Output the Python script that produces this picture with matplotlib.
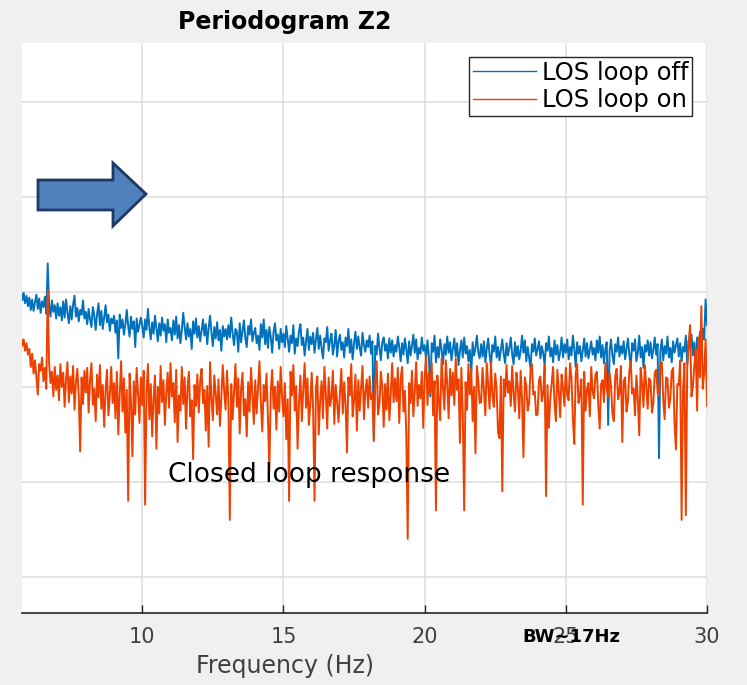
import numpy as np
import matplotlib
matplotlib.use("Agg")
import matplotlib.pyplot as plt
from matplotlib.patches import Polygon

plt.rcParams['font.family'] = 'DejaVu Sans'

# frequency grid (Hz) and power (dB)
f_start, f_step = 5.7, 0.05
los_off = [
    -39.8, -40.9, -40.1, -41.2, -40.4, -41.5,
    -40.6, -41.9, -40.8, -42.0, -41.1, -40.3, -41.8, -40.7, -42.2, -41.0, -41.6, -40.5, -42.3, -37.0, -41.3, -42.6, -40.9, -42.1, -41.4, -42.8,
    -41.2, -42.5, -41.6, -43.0, -41.0, -42.7, -40.8, -42.2, -43.3, -41.5, -42.9, -41.3, -40.4, -42.6, -41.7, -43.1, -41.9, -42.4, -40.9, -42.8,
    -42.1, -43.4, -41.8, -42.9, -43.7, -41.6, -42.5, -44.0, -42.3, -41.2, -43.5, -42.0, -43.9, -42.7, -41.4, -43.2, -42.4, -44.1, -42.8, -43.3,
    -42.5, -44.3, -43.0, -47.0, -42.4, -43.8, -42.9, -44.5, -43.4, -41.9, -43.6, -44.7, -42.6, -43.9, -43.1, -45.8, -42.8, -44.2, -43.5, -42.7,
    -43.6, -44.8, -42.9, -44.0, -41.8, -43.7, -45.0, -43.2, -44.4, -42.5, -43.9, -45.2, -43.3, -44.6, -42.7, -44.1, -43.4, -45.3, -42.9, -44.3,
    -43.8, -45.1, -43.0, -44.5, -42.6, -44.9, -43.5, -45.4, -44.0, -42.2, -43.7, -45.0, -43.3, -44.7, -43.9, -46.0, -43.1, -44.4, -42.8, -44.8,
    -43.6, -45.2, -44.1, -42.9, -44.6, -43.4, -45.5, -43.8, -42.5, -44.3, -45.7, -43.7, -44.9, -43.2, -45.1, -44.0, -46.2, -43.6, -44.7, -43.9,
    -45.0, -43.5, -44.8, -42.7, -44.4, -45.6, -43.9, -44.2, -46.3, -43.3, -45.3, -44.1, -43.0, -44.9, -45.8, -43.6, -44.5, -42.9, -45.2, -44.3,
    -43.8, -45.4, -44.6, -46.1, -43.4, -44.8, -42.9, -45.5, -44.0, -45.9, -43.7, -44.7, -46.4, -44.2, -43.3, -45.1, -44.5, -46.0, -43.9, -45.3,
    -44.4, -45.8, -43.6, -45.0, -46.3, -44.6, -45.4, -43.5, -46.5, -44.9, -45.7, -44.1, -43.4, -45.6, -44.8, -46.7, -45.2, -43.9, -46.1, -44.7,
    -45.5, -44.3, -46.4, -45.0, -43.8, -46.0, -44.6, -45.9, -47.0, -44.9, -45.3, -43.7, -46.2, -45.1, -44.4, -46.6, -45.6, -44.0, -46.8, -45.2,
    -44.5, -46.1, -45.3, -46.9, -44.8, -45.7, -43.9, -46.4, -45.0, -47.1, -45.4, -44.2, -46.0, -44.7, -45.9, -46.7, -44.3, -45.6, -46.3, -45.1,
    -45.8, -44.6, -46.5, -45.2, -55.5, -45.7, -46.6, -44.4, -45.9, -47.2, -45.3, -44.8, -46.2, -45.5, -47.0, -44.9, -46.4, -45.1, -46.8, -45.6,
    -46.3, -44.7, -45.8, -47.3, -45.4, -46.6, -44.9, -46.0, -47.5, -45.2, -46.7, -45.7, -44.5, -46.4, -45.0, -47.1, -45.9, -46.5, -44.8, -46.2,
    -45.6, -47.0, -45.1, -46.8, -51.0, -45.4, -46.3, -44.6, -47.4, -45.8, -46.9, -45.0, -46.1, -47.6, -45.5, -46.6, -44.7, -46.4, -45.3, -47.2,
    -46.0, -44.9, -46.8, -45.4, -47.7, -46.2, -45.1, -46.9, -44.8, -46.5, -45.7, -47.3, -46.1, -48.6, -45.3, -46.7, -45.9, -44.6, -46.4, -47.0,
    -45.5, -46.8, -45.2, -47.4, -46.0, -44.9, -46.6, -47.8, -45.6, -46.3, -44.7, -46.9, -45.8, -47.2, -46.1, -45.0, -46.5, -47.5, -45.4, -46.7,
    -45.9, -44.8, -46.6, -47.6, -45.3, -46.8, -45.7, -47.1, -46.2, -44.6, -46.4, -45.1, -47.3, -45.8, -46.9, -48.1, -45.5, -46.3, -44.9, -46.7,
    -46.0, -45.2, -47.0, -45.7, -46.5, -47.7, -45.4, -46.2, -44.7, -46.8, -45.9, -47.4, -45.1, -46.6, -45.6, -47.2, -46.3, -44.8, -46.9, -45.5,
    -46.4, -45.0, -47.1, -45.8, -46.7, -44.6, -46.0, -47.9, -45.3, -46.5, -45.7, -47.3, -46.2, -44.9, -46.8, -45.4, -47.0, -46.1, -45.2, -46.6,
    -45.9, -47.2, -45.1, -46.4, -44.7, -46.9, -45.6, -47.5, -46.0, -45.3, -54.0, -46.2, -45.0, -46.7, -47.6, -45.5, -46.3, -44.8, -46.8, -45.7,
    -46.5, -45.2, -47.1, -46.0, -44.9, -46.6, -47.8, -45.4, -46.2, -45.0, -47.3, -46.4, -44.6, -46.9, -45.8, -48.0, -45.6, -46.3, -45.1, -46.7,
    -45.3, -47.0, -46.1, -44.8, -46.6, -45.5, -57.5, -46.2, -45.0, -47.2, -45.7, -46.5, -44.7, -46.9, -45.9, -47.4, -45.2, -46.4, -45.6, -44.9,
    -46.8, -45.4, -47.3, -45.8, -46.3, -44.6, -47.6, -45.1, -46.0, -44.5, -46.7, -45.3, -48.0, -44.8, -46.1, -44.2, -45.9, -43.9, -45.0, -40.8,
    -43.5,
]
los_on = [
    -44.6, -45.7, -45.0, -46.2, -45.4, -46.6,
    -46.0, -47.9, -46.5, -48.6, -47.2, -49.0, -50.8, -47.6, -48.3, -46.9, -49.4, -48.0, -50.2, -39.8, -47.5, -49.6, -48.4, -51.0, -47.9, -50.3,
    -48.8, -51.4, -47.6, -50.0, -48.5, -52.1, -49.2, -47.4, -51.6, -48.9, -50.7, -47.8, -52.4, -49.5, -48.1, -50.9, -56.8, -49.0, -51.8, -48.3,
    -50.6, -48.0, -52.7, -49.3, -47.5, -51.9, -50.2, -53.6, -48.7, -51.1, -47.7, -52.3, -49.8, -54.2, -50.4, -48.2, -53.0, -50.9, -47.9, -51.7,
    -49.6, -53.3, -48.4, -55.0, -50.8, -47.3, -52.6, -49.1, -54.8, -50.3, -62.0, -48.6, -51.5, -57.3, -49.4, -52.9, -48.0, -50.7, -53.8, -49.0,
    -51.9, -48.3, -62.4, -50.5, -47.6, -53.4, -49.7, -55.2, -51.2, -48.8, -56.5, -50.0, -52.8, -47.8, -51.6, -49.3, -54.0, -50.6, -48.5, -52.2,
    -47.5, -51.0, -49.6, -53.7, -48.2, -55.8, -50.9, -52.5, -47.9, -51.8, -49.0, -54.4, -50.2, -48.4, -53.1, -51.4, -57.6, -49.8, -52.0, -48.7,
    -52.7, -49.4, -48.1, -51.7, -50.3, -54.6, -49.9, -56.3, -47.4, -51.2, -53.5, -48.8, -50.7, -52.9, -49.2, -54.1, -51.1, -47.7, -50.4, -52.4,
    -48.3, -51.5, -64.0, -49.7, -53.4, -50.6, -47.6, -52.1, -49.1, -54.9, -50.2, -48.5, -53.0, -51.3, -55.2, -49.5, -52.6, -48.0, -50.8, -53.9,
    -49.3, -52.8, -50.1, -47.3, -51.7, -54.7, -49.8, -51.5, -48.6, -53.2, -58.8, -50.5, -48.2, -52.3, -50.0, -54.5, -49.4, -52.6, -47.9, -51.0,
    -53.1, -49.6, -55.5, -51.3, -62.0, -48.4, -50.9, -47.7, -52.5, -49.9, -56.5, -51.6, -48.8, -53.6, -50.3, -47.5, -52.2, -49.1, -54.0, -51.9,
    -48.5, -52.4, -62.0, -50.1, -48.9, -55.0, -51.4, -49.4, -53.3, -47.9, -50.7, -54.4, -49.0, -52.0, -51.1, -48.3, -53.9, -49.8, -51.6, -53.7,
    -50.6, -48.1, -52.8, -49.5, -51.9, -56.9, -49.0, -50.9, -47.6, -53.1, -51.4, -48.7, -54.6, -49.3, -52.5, -50.0, -47.8, -53.4, -50.5, -49.2,
    -52.2, -48.9, -51.3, -50.7, -55.7, -49.5, -47.3, -52.9, -51.8, -48.4, -50.0, -54.2, -49.7, -52.4, -48.6, -53.5, -50.8, -47.5, -51.6, -49.1,
    -51.5, -48.0, -53.8, -49.2, -47.9, -52.6, -50.4, -55.0, -66.0, -49.6, -51.7, -48.3, -53.1, -50.5, -47.4, -52.0, -49.8, -51.2, -48.4, -54.3,
    -49.0, -46.8, -51.9, -48.5, -50.6, -47.5, -53.0, -49.4, -63.0, -48.8, -51.5, -53.5, -47.0, -50.1, -52.4, -47.2, -49.7, -53.3, -48.1, -50.9,
    -48.5, -51.9, -47.0, -50.3, -49.2, -55.9, -48.0, -52.7, -63.0, -49.5, -52.4, -47.6, -50.8, -48.1, -53.6, -50.0, -57.0, -47.8, -49.3, -51.7,
    -51.6, -48.0, -50.4, -53.0, -47.5, -49.8, -52.3, -47.4, -50.9, -52.1, -48.6, -50.3, -54.8, -55.4, -48.9, -61.0, -49.2, -51.0, -47.7, -50.6,
    -49.4, -52.0, -47.8, -50.7, -52.6, -48.5, -50.0, -53.3, -48.3, -51.4, -57.4, -49.0, -49.9, -52.5, -51.7, -48.2, -47.6, -50.8, -50.5, -53.0,
    -52.9, -49.3, -48.9, -51.5, -50.7, -47.7, -61.5, -49.8, -54.3, -51.2, -49.5, -47.9, -51.8, -53.6, -48.2, -50.4, -53.2, -48.7, -50.1, -52.0,
    -48.0, -50.9, -51.4, -47.5, -49.1, -53.4, -56.0, -48.6, -47.6, -51.7, -50.8, -49.2, -62.4, -48.4, -52.5, -50.2, -49.6, -53.1, -47.9, -50.5,
    -51.2, -48.7, -48.4, -52.0, -54.4, -49.7, -49.3, -51.6, -47.5, -50.3, -51.0, -48.5, -49.9, -52.8, -53.6, -48.9, -48.1, -51.3, -50.6, -47.8,
    -55.8, -49.4, -49.0, -52.6, -51.5, -48.3, -47.3, -50.7, -50.2, -53.0, -48.8, -51.2, -55.1, -48.0, -49.6, -52.1, -47.7, -50.0, -52.3, -49.1,
    -49.4, -52.7, -51.7, -48.5, -48.2, -50.6, -50.9, -47.6, -47.4, -51.4, -53.4, -49.0, -49.1, -52.2, -51.3, -48.4, -48.0, -53.8, -56.6, -49.7,
    -49.8, -47.2, -64.0, -50.4, -47.5, -63.5, -48.0, -45.5, -43.5, -51.0, -50.0, -47.8, -46.0, -52.5, -44.8, -49.0, -41.5, -50.2, -48.5, -45.0,
    -52.0,
]
freq_off = f_start + f_step * np.arange(len(los_off))
freq_on = f_start + f_step * np.arange(len(los_on))
xticks = [10, 15, 20, 25, 30]
ygrid = [-70, -60, -50, -40, -30, -20]

W, H = 747, 685
fig = plt.figure(figsize=(W / 100, H / 100), dpi=100, facecolor='#f0f0f0')
ax = fig.add_axes([22 / W, 1 - 613 / H, 685 / W, 570 / H])
ax.set_facecolor('white')

ax.plot(freq_off, los_off, color='#0072BD', lw=1.4, label='LOS loop off')
ax.plot(freq_on, los_on, color='#EE4100', lw=1.4, label='LOS loop on')

ax.set_xlim(5.74, 30)
ax.set_ylim(-73.8, -13.8)
ax.set_xticks(xticks)
ax.set_yticks(ygrid)
ax.set_yticklabels([])
ax.grid(True, color='#dcdcdc', lw=1.1)
ax.set_axisbelow(True)
ax.tick_params(axis='x', direction='in', length=6, width=1, color='#262626',
               labelsize=15, labelcolor='#404040', pad=10)
ax.tick_params(axis='y', length=0)
for s in ['left', 'right', 'top']:
    ax.spines[s].set_visible(False)
ax.spines['bottom'].set_color('#262626')
ax.spines['bottom'].set_linewidth(1.2)

leg = ax.legend(loc='upper right', bbox_to_anchor=(692 / W, 1 - 57 / H),
                bbox_transform=fig.transFigure, fontsize=17.5, frameon=True,
                fancybox=False, edgecolor='#262626', framealpha=1,
                handlelength=2.6, handletextpad=0.25, borderpad=0.15,
                labelspacing=0.15, borderaxespad=0)
leg.get_frame().set_linewidth(1.0)
for h in leg.get_lines():
    h.set_linewidth(1.0)

fig.text(285 / W, 1 - 22 / H, 'Periodogram Z2', ha='center', va='center',
         fontsize=17, fontweight='bold', color='black')
fig.text(285 / W, 1 - 666 / H, 'Frequency (Hz)', ha='center', va='center',
         fontsize=17, color='#404040')
fig.text(168 / W, 1 - 475 / H, 'Closed loop response', ha='left', va='center',
         fontsize=19, color='black')
fig.text(571 / W, 1 - 637 / H, 'BW~17Hz', ha='center', va='center',
         fontsize=13, fontweight='bold', color='black')

arrow_px = [(38, 180), (113, 180), (113, 163), (146, 194), (113, 226),
            (113, 210), (38, 210)]
arrow = Polygon([(x / W, 1 - y / H) for x, y in arrow_px], closed=True,
                transform=fig.transFigure, facecolor='#4F81BD',
                edgecolor='#1F3864', lw=2.0, joinstyle='miter')
fig.patches.append(arrow)

fig.savefig('out.png', dpi=100, facecolor=fig.get_facecolor())
